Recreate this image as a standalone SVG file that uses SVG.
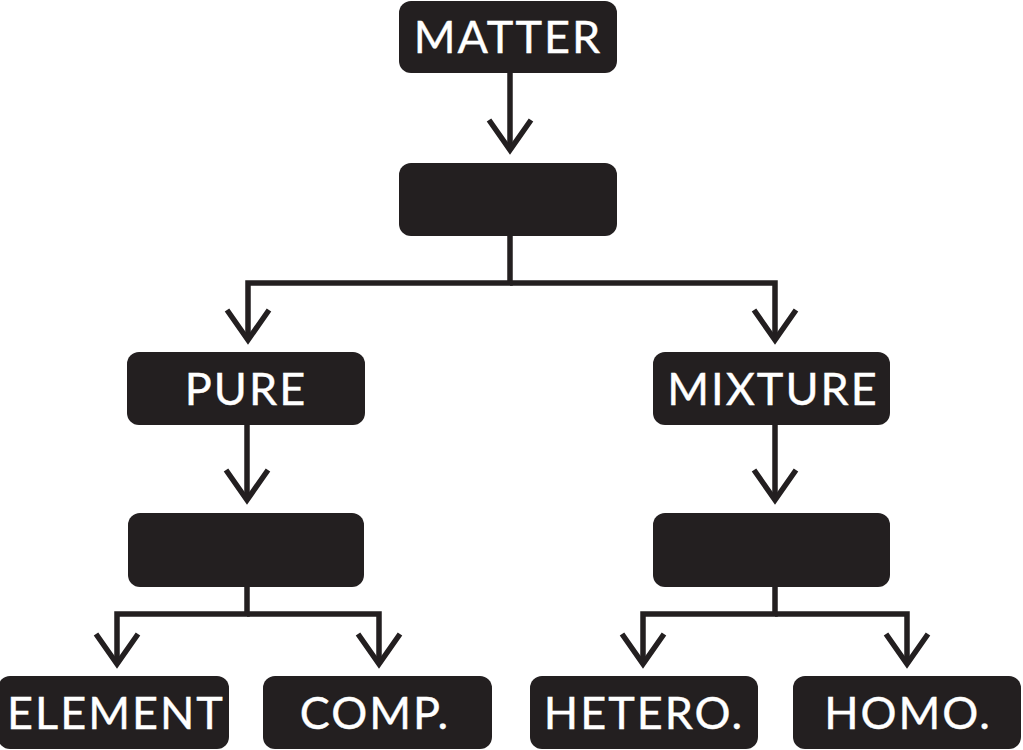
<svg xmlns="http://www.w3.org/2000/svg" width="1023" height="750" viewBox="0 0 1023 750">
<style>
.box{fill:#231f20}
.lbl{fill:#ffffff;stroke:#ffffff;stroke-width:0.4px;font-family:Lato,"Open Sans","Liberation Sans",sans-serif;font-size:45px;text-anchor:middle;letter-spacing:2px}
.con{fill:none;stroke:#231f20;stroke-width:5.5;stroke-linejoin:miter}
</style>
<defs>
<marker id="chev" markerUnits="userSpaceOnUse" viewBox="-36 -26 42 52" markerWidth="42" markerHeight="52" refX="0" refY="0" orient="auto">
<path d="M-30,-21 L0,0 L-30,21" fill="none" stroke="#231f20" stroke-width="5.5"/>
</marker>
</defs>
<rect width="1023" height="750" fill="#ffffff"/>
<g id="connectors">
<path class="con" d="M510,73 V150" marker-end="url(#chev)"/>
<path class="con" d="M510,236 V283 H248 V340" marker-end="url(#chev)"/>
<path class="con" d="M510,283 H775 V340" marker-end="url(#chev)"/>
<path class="con" d="M247,425 V500" marker-end="url(#chev)"/>
<path class="con" d="M247,587 V614 H117 V664" marker-end="url(#chev)"/>
<path class="con" d="M247,614 H379 V664" marker-end="url(#chev)"/>
<path class="con" d="M775,425 V500" marker-end="url(#chev)"/>
<path class="con" d="M775,587 V614 H643 V664" marker-end="url(#chev)"/>
<path class="con" d="M775,614 H907 V664" marker-end="url(#chev)"/>
</g>
<g id="matter"><rect class="box" x="399" y="1" width="218" height="72" rx="12"/><text class="lbl" x="508" y="53">MATTER</text></g>
<g id="node2"><rect class="box" x="399" y="163" width="218" height="73" rx="12"/></g>
<g id="pure"><rect class="box" x="127" y="352" width="238" height="73" rx="12"/><text class="lbl" x="246" y="405">PURE</text></g>
<g id="mixture"><rect class="box" x="653" y="352" width="237" height="73" rx="12"/><text class="lbl" x="773" y="405">MIXTURE</text></g>
<g id="node3"><rect class="box" x="128" y="513" width="236" height="74" rx="12"/></g>
<g id="node4"><rect class="box" x="653" y="513" width="237" height="74" rx="12"/></g>
<g id="element"><rect class="box" x="-2" y="676" width="231" height="73" rx="12"/><text class="lbl" x="116" y="729">ELEMENT</text></g>
<g id="comp"><rect class="box" x="263" y="676" width="229" height="73" rx="12"/><text class="lbl" x="375" y="729">COMP.</text></g>
<g id="hetero"><rect class="box" x="530" y="676" width="228" height="73" rx="12"/><text class="lbl" x="644" y="729">HETERO.</text></g>
<g id="homo"><rect class="box" x="793" y="676" width="228" height="73" rx="12"/><text class="lbl" x="908" y="729">HOMO.</text></g>
</svg>
